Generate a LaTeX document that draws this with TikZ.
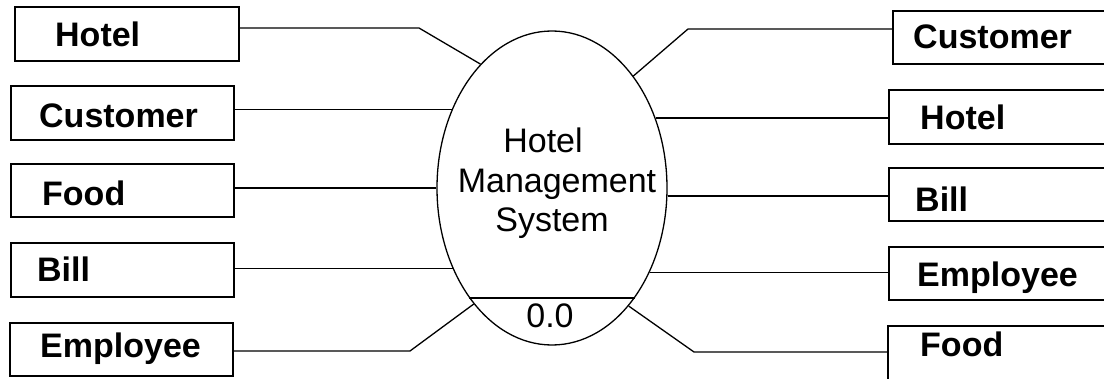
\documentclass[tikz,border=0pt]{standalone}
\usepackage{fontspec}
\setmainfont{Liberation Sans}
\usetikzlibrary{shapes.geometric}
\tikzset{
  ebox/.style={draw=black, line width=1.8pt, rectangle, inner sep=0pt, anchor=north west},
  lab/.style={anchor=base west, inner sep=0pt, font=\fontsize{34}{40}\selectfont\bfseries},
  ctext/.style={anchor=base, inner sep=0pt, font=\fontsize{34}{40}\selectfont},
  conn/.style={draw=black, line width=1.3pt},
  proc/.style={draw=black, line width=1.3pt, ellipse, inner sep=0pt, minimum width=230pt, minimum height=314pt}
}
\begin{document}
\begin{tikzpicture}[x=1pt,y=-1pt]
\clip (0,0) rectangle (1104,379);
\fill[white] (0,0) rectangle (1104,379);
% process
\node[proc] (sys) at (552,188) {};
\draw[conn] (sys.233.29) -- (sys.-53.29);
\node[ctext] (t1) at (543,153) {Hotel};
\node[ctext] (t2) at (557,193) {Management};
\node[ctext] (t3) at (552,232) {System};
\node[ctext] (t4) at (550,328) {0.0};
% left boxes
\node[ebox, minimum width=224pt, minimum height=54pt] (lh) at (14,6) {};
\node[ebox, minimum width=223pt, minimum height=54pt] (lc) at (10,85) {};
\node[ebox, minimum width=223pt, minimum height=53pt] (lf) at (10,163) {};
\node[ebox, minimum width=223pt, minimum height=54pt] (lb) at (10,242) {};
\node[ebox, minimum width=223pt, minimum height=53pt] (le) at (9,322) {};
\node[lab] (lht) at (55,47) {Hotel};
\node[lab] (lct) at (39,128) {Customer};
\node[lab] (lft) at (42,206) {Food};
\node[lab] (lbt) at (37,282) {Bill};
\node[lab] (let) at (40,358) {Employee};
% right boxes
\node[ebox, minimum width=224pt, minimum height=53pt] (rc) at (892,10) {};
\node[ebox, minimum width=224pt, minimum height=54pt] (rh) at (888,89) {};
\node[ebox, minimum width=224pt, minimum height=53pt] (rb) at (888,167) {};
\node[ebox, minimum width=224pt, minimum height=53pt] (re) at (888,246) {};
\node[ebox, minimum width=224pt, minimum height=56pt] (rf) at (887,325) {};
\node[lab] (rct) at (913,49) {Customer};
\node[lab] (rht) at (920,130) {Hotel};
\node[lab] (rbt) at (915,212) {Bill};
\node[lab] (ret) at (917,287) {Employee};
\node[lab] (rft) at (920,357) {Food};
% bend points
\coordinate (k1) at (419,28);
\coordinate (k2) at (410,351);
\coordinate (k3) at (688,29);
\coordinate (k4) at (694,352);
% left connectors
\draw[conn] (lh.east |- k1) -- (k1) -- (sys.120.3);
\draw[conn] (lc.east |- sys.142.5) -- (sys.142.5);
\draw[conn] (lf.east |- sys.180) -- (sys.180);
\draw[conn] (lb.east |- sys.219) -- (sys.219);
\draw[conn] (le.east |- k2) -- (k2) -- (sys.236.9);
% right connectors
\draw[conn] (rc.west |- k3) -- (k3) -- (sys.54.4);
\draw[conn] (rh.west |- sys.34.2) -- (sys.34.2);
\draw[conn] (rb.west |- sys.-4) -- (sys.-4);
\draw[conn] (re.west |- sys.-41.8) -- (sys.-41.8);
\draw[conn] (rf.west |- k4) -- (k4) -- (sys.-57.2);
\end{tikzpicture}
\end{document}
